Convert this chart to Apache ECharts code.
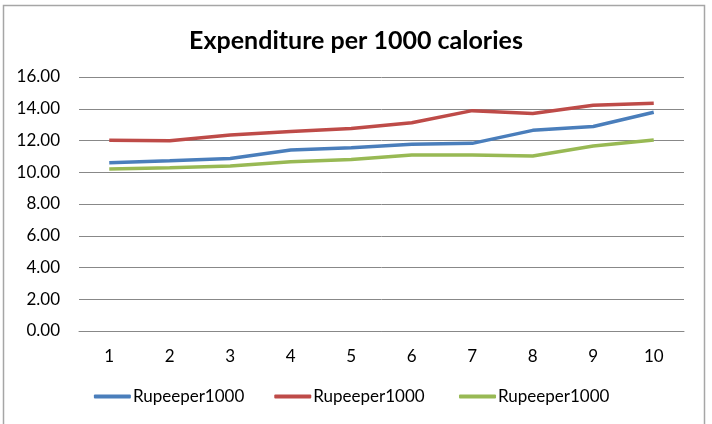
<!DOCTYPE html>
<html>
<head>
<meta charset="utf-8">
<script src="https://cdn.jsdelivr.net/npm/echarts@6/dist/echarts.min.js"></script>
<style>
  html, body { margin: 0; padding: 0; background: #fff; }
  #chart { width: 712px; height: 424px; }
</style>
</head>
<body>
<div id="chart"></div>
<script>
const categories = ['1', '2', '3', '4', '5', '6', '7', '8', '9', '10'];
const seriesBlue = [10.6, 10.72, 10.87, 11.4, 11.55, 11.76, 11.82, 12.64, 12.88, 13.78];
const seriesRed = [12.02, 11.98, 12.35, 12.56, 12.76, 13.12, 13.88, 13.7, 14.22, 14.34];
const seriesGreen = [10.2, 10.28, 10.4, 10.66, 10.8, 11.08, 11.09, 11.03, 11.65, 12.03];
const seriesNames = ['Rupeeper1000', 'Rupeeper1000', 'Rupeeper1000'];

const chart = echarts.init(document.getElementById('chart'));
const font = 'Lato, "Open Sans", sans-serif';

const lineSeries = (name, data, color) => ({
  name,
  type: 'line',
  data,
  symbol: 'none',
  smooth: false,
  lineStyle: { width: 3.5, color },
  itemStyle: { color }
});

chart.setOption({
  animation: false,
  color: ['#4A7EBB', '#BE4B48', '#98B954'],
  title: {
    text: 'Expenditure per 1000 calories',
    left: 'center',
    top: 23,
    textStyle: { fontFamily: font, fontSize: 25, fontWeight: 'bold', color: '#000' }
  },
  graphic: [{
    type: 'rect',
    shape: { x: 3.5, y: 5.5, width: 701, height: 430 },
    style: { fill: 'none', stroke: '#a6a6a6', lineWidth: 1.5 },
    silent: true
  }],
  grid: { left: 79, right: 28, top: 77, bottom: 93 },
  legend: {
    bottom: 14,
    left: 'center',
    itemWidth: 37,
    itemHeight: 4,
    itemGap: 30,
    icon: 'roundRect',
    textStyle: { fontFamily: font, fontSize: 17, color: '#000', padding: [0, 0, 0, -3] },
    data: [
      { name: seriesNames[0], itemStyle: { color: '#4A7EBB' } },
      { name: seriesNames[1] + ' ', itemStyle: { color: '#BE4B48' } },
      { name: seriesNames[2] + '  ', itemStyle: { color: '#98B954' } }
    ]
  },
  xAxis: {
    type: 'category',
    data: categories,
    boundaryGap: true,
    axisLine: { lineStyle: { color: '#888', width: 1 } },
    axisTick: { show: false },
    axisLabel: { fontFamily: font, fontSize: 17, color: '#000', margin: 17 }
  },
  yAxis: {
    type: 'value',
    min: 0,
    max: 16,
    interval: 2,
    axisLine: { show: false },
    axisTick: { show: false },
    axisLabel: {
      fontFamily: font, fontSize: 17, color: '#000', margin: 19,
      formatter: v => v.toFixed(2)
    },
    splitLine: { lineStyle: { color: '#888', width: 1 } }
  },
  series: [
    lineSeries(seriesNames[0], seriesBlue, '#4A7EBB'),
    lineSeries(seriesNames[1] + ' ', seriesRed, '#BE4B48'),
    lineSeries(seriesNames[2] + '  ', seriesGreen, '#98B954')
  ]
});
</script>
</body>
</html>
